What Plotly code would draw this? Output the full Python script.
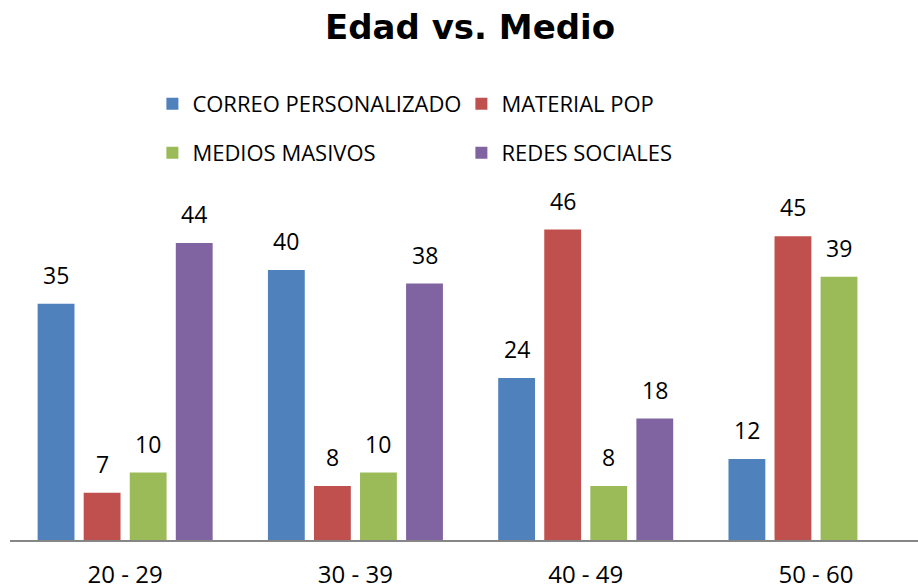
import plotly.graph_objects as go

categories = ["20 - 29", "30 - 39", "40 - 49", "50 - 60"]
series_names = ["CORREO PERSONALIZADO", "MATERIAL POP", "MEDIOS MASIVOS", "REDES SOCIALES"]
correo = [35, 40, 24, 12]
material = [7, 8, 46, 45]
medios = [10, 10, 8, 39]
redes = [44, 38, 18, None]
colors = ["#4F81BD", "#C0504D", "#9BBB59", "#8064A2"]

FONT = "'Open Sans', Lato, sans-serif"
TITLE_FONT = "'DejaVu Sans', 'Open Sans', sans-serif"
series = [correo, material, medios, redes]
legends = ["legend", "legend", "legend2", "legend2"]

fig = go.Figure()
for name, vals, col, lg in zip(series_names, series, colors, legends):
    fig.add_trace(go.Bar(name=name, x=categories, y=vals, marker_color=col,
                         marker_line_width=0, legend=lg))

bargap = 0.2
slot = (1 - bargap) / len(series)
annotations = []
for j, vals in enumerate(series):
    for i, v in enumerate(vals):
        if v is None:
            continue
        annotations.append(dict(x=i + (j - (len(series) - 1) / 2) * slot, y=v,
                                xref="x", yref="y", text=str(v), showarrow=False,
                                yanchor="bottom", yshift=11,
                                font=dict(family=FONT, size=23, color="#000000")))

legend_common = dict(orientation="h", xref="container", yref="container",
                     yanchor="middle", xanchor="left",
                     entrywidth=264, entrywidthmode="pixels",
                     font=dict(family=FONT, size=22, color="#000000"))

fig.update_layout(
    width=918, height=584,
    margin=dict(l=10, r=0, t=190, b=44),
    paper_bgcolor="white", plot_bgcolor="white",
    barmode="group", bargap=bargap, bargroupgap=0.2,
    title=dict(text="<b>Edad vs. Medio</b>", x=0.512, xanchor="center",
               y=1 - 27.5 / 584, yanchor="middle",
               font=dict(family=TITLE_FONT, size=34, color="#000000")),
    legend=dict(x=0.166, y=1 - 104 / 584, **legend_common),
    legend2=dict(x=0.166, y=1 - 153 / 584, **legend_common),
    annotations=annotations,
    showlegend=True,
)
fig.update_xaxes(type="category", range=[-0.5, 3.443], showline=True, linecolor="#868686",
                 linewidth=2, ticks="", showgrid=False, ticklabelstandoff=12, automargin=False,
                 tickfont=dict(family=FONT, size=24, color="#000000"))
fig.update_yaxes(range=[0, 51.86], visible=False, showgrid=False, automargin=False)

fig.write_html("out.html", config={"displayModeBar": False},
               post_script="document.body.style.margin='0';")
